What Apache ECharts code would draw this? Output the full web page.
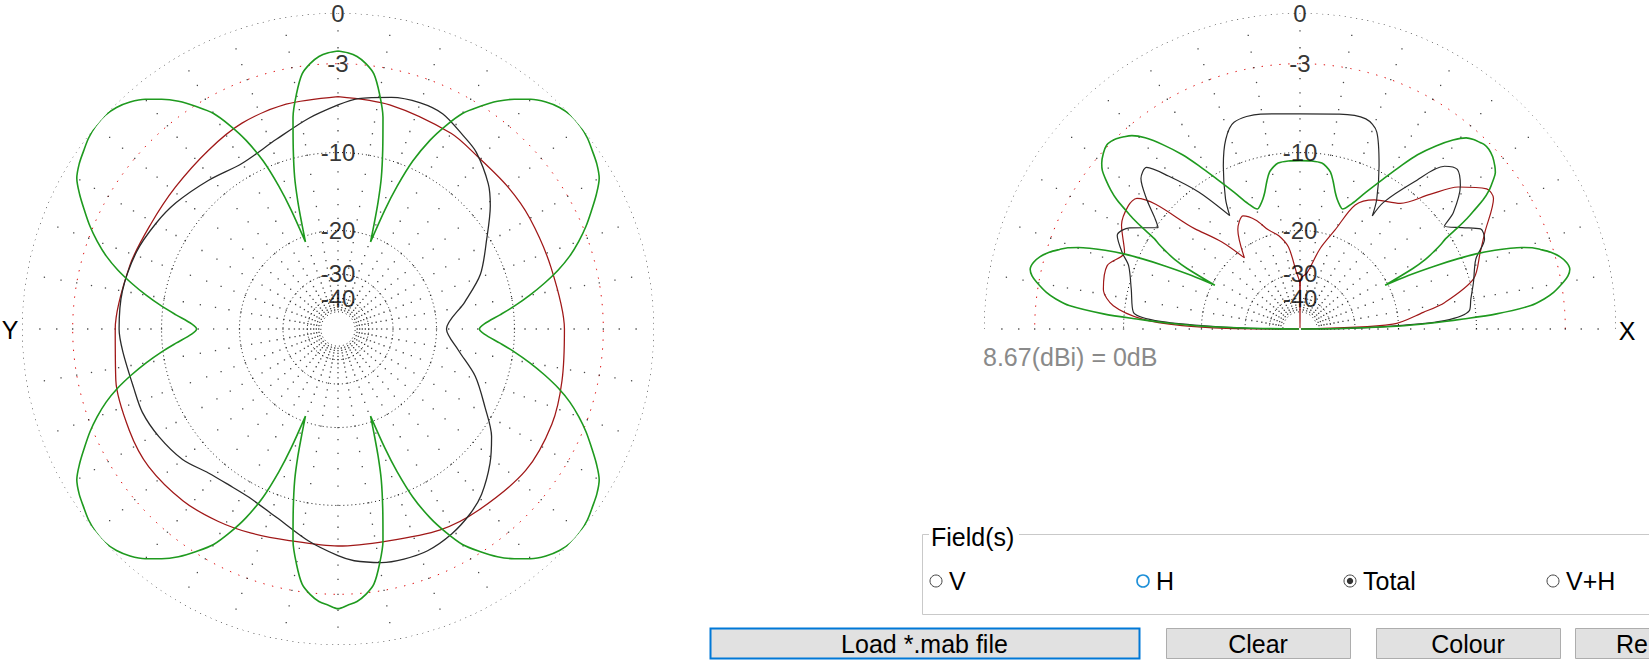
<!DOCTYPE html>
<html><head><meta charset="utf-8">
<script src="https://cdn.jsdelivr.net/npm/echarts/dist/echarts.min.js"></script>
<style>html,body{margin:0;padding:0;background:#fff;overflow:hidden}#c{width:1649px;height:665px}</style>
</head><body><div id="c"></div><script>
// ---------- DATA (dB relative to 8.67 dBi) ----------
// Azimuth plot (left), angle clockwise from top
const azGreenDeg = [0,2,4,6,8,10,12,14,16,17.5,19,20.5,21.5,22.5,24,26,28,30,32.5,35,37.5,40,42.5,45,47.5,50,52.5,55,57.5,60,62.5,65,67.5,70,72.5,75,77.5,80,82.5,85,88,90,
 92,95,97.5,100,102.5,105,107.5,110,112.5,115,117.5,120,122.5,125,127.5,130,132.5,135,137.5,140,142.5,145,147.5,150,152,154,156,157.5,158.5,159.5,161,162.5,164,166,168,170,172,174,176,178,180,
 182,184,186,188,190,192,194,196,197.5,199,200.5,201.5,202.5,204,206,208,210,212.5,215,217.5,220,222.5,225,227.5,230,232.5,235,237.5,240,242.5,245,247.5,250,252.5,255,257.5,260,262.5,265,268,270,
 272,275,277.5,280,282.5,285,287.5,290,292.5,295,297.5,300,302.5,305,307.5,310,312.5,315,317.5,320,322.5,325,327.5,330,332,334,336,337.5,338.5,339.5,341,342.5,344,346,348,350,352,354,356,358,360];
const azGreenDb = [-2.2,-2.3,-2.5,-2.9,-3.5,-4.8,-6.5,-9.2,-12.0,-14.8,-18.0,-21.0,-15.5,-12.3,-9.3,-7.0,-5.4,-4.1,-3.1,-2.2,-1.5,-0.9,-0.45,-0.15,0,0,-0.1,-0.3,-0.5,-0.8,-1.4,-2.1,-2.8,-3.6,-4.5,-5.6,-6.9,-8.3,-9.8,-11.4,-13.2,-13.8,
 -13.2,-11.4,-9.8,-8.3,-6.9,-5.6,-4.5,-3.6,-2.8,-2.1,-1.4,-0.8,-0.5,-0.3,-0.1,0,0,-0.15,-0.45,-0.9,-1.5,-2.2,-3.1,-4.1,-5.4,-7.0,-9.3,-12.3,-15.5,-21.0,-18.0,-14.8,-12.0,-9.2,-6.5,-4.8,-3.5,-2.9,-2.5,-2.3,-2.1,
 -2.3,-2.5,-2.9,-3.5,-4.8,-6.5,-9.2,-12.0,-14.8,-18.0,-21.0,-15.5,-12.3,-9.3,-7.0,-5.4,-4.1,-3.1,-2.2,-1.5,-0.9,-0.45,-0.15,0,0,-0.1,-0.3,-0.5,-0.8,-1.4,-2.1,-2.8,-3.6,-4.5,-5.6,-6.9,-8.3,-9.8,-11.4,-13.2,-13.8,
 -13.2,-11.4,-9.8,-8.3,-6.9,-5.6,-4.5,-3.6,-2.8,-2.1,-1.4,-0.8,-0.5,-0.3,-0.1,0,0,-0.15,-0.45,-0.9,-1.5,-2.2,-3.1,-4.1,-5.4,-7.0,-9.3,-12.3,-15.5,-21.0,-18.0,-14.8,-12.0,-9.2,-6.5,-4.8,-3.5,-2.9,-2.5,-2.3,-2.2];
const azRedDeg = [0,13,30,39,50,60,74,90,103,114,127,142,153,167,180,193,203,212,222,234,244,257,270,287,299,311,324,335,347,360];
const azRedDb  = [-5.27,-5.45,-5.75,-6.07,-6.1,-6.1,-6.08,-5.72,-5.46,-5.15,-5.08,-5.5,-5.8,-6.4,-6.45,-6.44,-6.07,-5.7,-5.35,-5.15,-5.3,-5.6,-6.0,-6.4,-6.64,-6.55,-6.16,-5.67,-5.4,-5.27];
const azBlackDeg = [0,5,13,20,26,33,38,46,51,59,69,78,90,100,109,118,125,131.5,139,144.5,151,158,164,169.5,176,180,188,198,208,215,222,230,239,247,254,264,270,280,291,300,308,319,330,342,352,360];
const azBlackDb  = [-5.9,-5.36,-4.88,-4.67,-4.77,-5.43,-5.87,-7.1,-8.2,-10.3,-12.5,-15.3,-18.35,-16.3,-13.35,-11.0,-8.96,-7.6,-6.3,-5.66,-5.13,-4.78,-4.77,-4.9,-5.28,-5.7,-6.7,-8.0,-8.7,-8.7,-8.4,-7.6,-7.1,-6.8,-6.8,-6.5,-6.3,-6.3,-6.55,-6.97,-7.4,-8.1,-8.6,-7.9,-6.8,-5.9];

// Elevation plot (right), angle counter-clockwise from X (right horizon)
const elGreenDeg = [0,0.9,1.6,2.5,3.5,4.4,5.8,7,8.2,10.1,11.2,12.5,14,15.5,17,18.3,19.3,20.2,21,22,23.1,24,25,26.3,27.2,28.2,29,30,31,31.8,32.7,33.5,34.4,35.2,36.3,37.5,38.7,39.9,41.8,43.6,45,46,47.5,49,51,53.4,56,58.3,61,64.3,67.5,70.5,72,74,75.6,77.4,79,80.8,82.5,86,90,
 94,97.5,99.2,101,102.6,104.4,106,108,109.5,112.5,115.7,119,121.7,124,126.6,129,131,132.5,134,135,136.4,138.2,140.1,141.3,142.5,143.7,144.8,145.6,146.5,147.3,148.2,149,150,151,151.8,152.8,153.7,155,156,156.9,158,159,159.8,160.7,161.7,163,164.5,166,167.5,168.8,169.9,171.8,173,174.2,175.6,176.5,177.5,178.4,179.1,180];
const elGreenDb = [-99,-32,-20.3,-15.2,-11.3,-8.1,-5.3,-4.3,-3.6,-2.85,-2.5,-2.3,-2.4,-2.7,-3.2,-3.8,-4.3,-5.0,-5.8,-7.0,-8.6,-10.4,-12.8,-16.5,-20.5,-15.5,-13.6,-12.3,-11.2,-10.5,-9.0,-7.8,-6.8,-5.9,-5.1,-4.5,-4.0,-3.75,-3.45,-3.3,-3.3,-3.4,-3.55,-3.8,-4.5,-5.6,-7.0,-8.6,-10.5,-12.6,-14.5,-15.6,-15.3,-14.6,-13.8,-12.6,-11.7,-11.2,-10.9,-10.8,-10.8,
 -10.8,-10.9,-11.2,-11.7,-12.6,-13.8,-14.6,-15.3,-15.6,-14.5,-12.6,-10.5,-8.6,-7.0,-5.5,-4.3,-3.6,-3.3,-3.05,-2.95,-2.9,-3.1,-3.45,-3.8,-4.4,-5.1,-5.9,-6.8,-7.8,-9.0,-10.5,-11.2,-12.3,-13.6,-15.5,-20.5,-16.5,-12.8,-10.4,-8.6,-7.0,-5.8,-5.0,-4.3,-3.8,-3.2,-2.7,-2.4,-2.3,-2.5,-2.85,-3.6,-4.3,-5.3,-8.1,-11.3,-15.2,-20.3,-32,-99];
const elBlackDeg = [0,1,2,3.3,6.2,9.9,15,21.7,26,29,32,35.5,37.2,41.8,45.4,48.4,52.2,56.6,57.4,59.4,64.2,68.7,72.6,79.6,90,100.4,107.7,111.4,115.2,119.8,121.8,126.5,130.7,133.5,136.6,139.8,142.8,144.5,149.3,152.9,156.7,159.7,166.7,174.3,176.7,178,179,180];
const elBlackDb  = [-99,-30,-20,-13.4,-10.6,-10.3,-9.7,-8.8,-7.4,-7.3,-8.6,-9.9,-8.5,-6.6,-5.9,-6.4,-9.1,-12.6,-14.7,-12.7,-9.5,-6.9,-6.2,-6.33,-6.6,-6.33,-6.45,-7.55,-9.65,-12.8,-14.8,-10.6,-7.7,-6.0,-6.3,-7.8,-9.5,-10.2,-8.0,-7.4,-8.4,-9.4,-10.3,-10.9,-13.4,-20,-30,-99];
const elRedDeg = [0,3,7.7,10.4,16.1,23.1,27.7,34,36.9,41.9,46,51.4,60.1,66,70.5,76,83,88,89.6,90,90.4,92,93.4,98,102.8,107.9,112,116.7,122,128,132,136.4,141.3,144.2,149.8,156.4,161.8,168.6,172.9,176.4,178.4,179.5,180];
const elRedDb  = [-99,-21,-16,-13.1,-9.6,-8.2,-7.1,-5.2,-5.2,-6.8,-9.0,-11.6,-12.9,-14.5,-18.9,-23,-29.6,-31,-33,-99,-33,-31,-29.7,-23,-20.5,-19,-17,-15.7,-17,-21.5,-17,-13.3,-7.1,-6.9,-7.3,-8.6,-7.6,-7.8,-8.9,-11.9,-16.9,-25,-99];

// Grid
const ringDb = [0,-3,-10,-20,-30,-40,-50];
const ringLabels = ['0','-3','-10','-20','-30','-40'];
const spokeDbSteps = [-1,-2,-3,-4,-5,-6,-7,-8,-9,-10,-12,-14,-16,-18,-20,-22,-24,-26,-28,-30,-32,-34,-36,-38,-40,-42,-44,-46,-48];
const spokeEveryDeg = 10;
const refText = '8.67(dBi) = 0dB';
const fieldOptions = ['V','H','Total','V+H'];
const buttonLabels = ['Load *.mab file','Clear','Colour','Re'];

// ---------- BUILD ----------
// ARRL log scale: radius factor 0.89 per 2 dB
const f = db => Math.pow(0.89, -db / 2);
const FONT = 'Liberation Sans, Arial, sans-serif';
const series = [];
function curve(pi, deg, db, color, w) {
  series.push({type:'line', coordinateSystem:'polar', polarIndex:pi, symbol:'none', silent:true, z:5, smooth:0.3,
    data: deg.map((a,i)=>[f(db[i]), a]), lineStyle:{color:color, width:w}});
}
function grid(pi, spanDeg, labelAngle) {
  ringDb.forEach(db => {
    const pts = [];
    for (let a = 0; a <= spanDeg; a += 1) pts.push([f(db), a]);
    const red = db === -3;
    series.push({type:'line', coordinateSystem:'polar', polarIndex:pi, symbol:'none', silent:true, z:1,
      data: pts, lineStyle:{color: red ? '#e01010' : '#1a1a1a', width:1, type: red ? [1.4, 7.5] : (db === 0 ? [1.2, 4.5] : [1, 3])}});
  });
  const dots = [];
  for (let a = 0; a < 360 && a <= spanDeg; a += spokeEveryDeg)
    spokeDbSteps.forEach(db => dots.push([f(db), a]));
  series.push({type:'scatter', coordinateSystem:'polar', polarIndex:pi, symbol:'rect', symbolSize:1.3, silent:true, z:1,
    itemStyle:{color:'#1a1a1a'}, data: dots});
  series.push({type:'scatter', coordinateSystem:'polar', polarIndex:pi, symbolSize:1, silent:true, z:10,
    itemStyle:{color:'rgba(0,0,0,0)'},
    data: ringLabels.map((t,i)=>({name:t, value:[f(ringDb[i]), labelAngle]})),
    label:{show:true, position:'inside', formatter:'{b}', color:'#000', fontSize:24, lineHeight:19, fontFamily:FONT}});
}
grid(0, 360, 0);
grid(1, 180, 90);
curve(0, azRedDeg, azRedDb, '#a01818', 1.3);
curve(0, azBlackDeg, azBlackDb, '#2a2a2a', 1.3);
curve(0, azGreenDeg, azGreenDb, '#1f9a1f', 1.6);
curve(1, elRedDeg, elRedDb, '#a01818', 1.2);
curve(1, elBlackDeg, elBlackDb, '#2a2a2a', 1.2);
curve(1, elGreenDeg, elGreenDb, '#1f9a1f', 1.6);

const txt = (x,y,t,o) => Object.assign({type:'text', x:x, y:y, silent:true, z:20,
  style:Object.assign({text:t, font:'25px ' + FONT, fill:'#000', textAlign:'left', textVerticalAlign:'middle'}, o||{})});
const graphic = [
  txt(10, 330, 'Y', {textAlign:'center'}),
  txt(1627, 331, 'X', {textAlign:'center'}),
  txt(983, 357, refText, {fill:'#8a8a8a'}),
  {type:'rect', shape:{x:922.5, y:534.5, width:760, height:80}, style:{fill:'none', stroke:'#c9c9c9', lineWidth:1}},
  {type:'rect', shape:{x:929, y:524, width:90, height:22}, style:{fill:'#fff'}},
  txt(931, 537, 'Field(s)')
];
const radioX = [936, 1143, 1350, 1553];
fieldOptions.forEach((t,i) => {
  graphic.push({type:'circle', shape:{cx:radioX[i], cy:581, r:6}, style:{fill:'#fff', stroke: i===1 ? '#1e90d8' : '#444', lineWidth: i===1 ? 1.6 : 1}});
  if (i === 2) graphic.push({type:'circle', shape:{cx:radioX[i], cy:581, r:3.2}, style:{fill:'#333'}});
  graphic.push(txt(radioX[i] + 13, 581, t));
});
const btnX = [710, 1166, 1376, 1575], btnW = [429, 184, 184, 184];
buttonLabels.forEach((t,i) => {
  graphic.push({type:'rect', shape:{x:btnX[i]+0.5, y:628.5, width:btnW[i], height:30},
    style:{fill:'#e1e1e1', stroke: i===0 ? '#0078d7' : '#adadad', lineWidth: i===0 ? 2 : 1}});
  if (i === 3) graphic.push(txt(1616, 644, t));
  else graphic.push(txt(btnX[i] + btnW[i]/2, 644, t, {textAlign:'center'}));
});

const chart = echarts.init(document.getElementById('c'), null, {renderer:'svg'});
chart.setOption({
  animation:false,
  backgroundColor:'#ffffff',
  polar:[{center:[338,329], radius:316},{center:[1300,329], radius:316}],
  angleAxis:[
    {polarIndex:0, type:'value', min:0, max:360, startAngle:90, clockwise:true, show:false},
    {polarIndex:1, type:'value', min:0, max:360, startAngle:0, clockwise:false, show:false}
  ],
  radiusAxis:[
    {polarIndex:0, type:'value', min:0, max:1, show:false},
    {polarIndex:1, type:'value', min:0, max:1, show:false}
  ],
  series: series,
  graphic: graphic
});
</script></body></html>
